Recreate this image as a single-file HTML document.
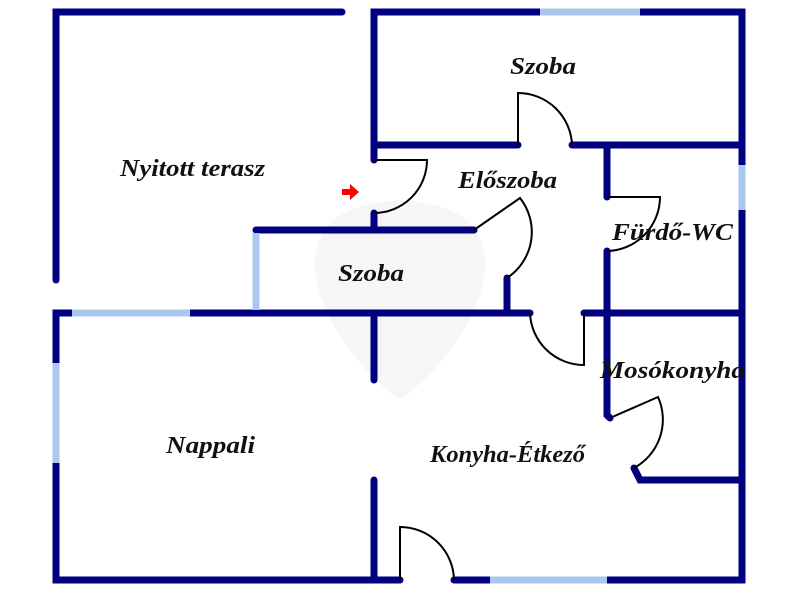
<!DOCTYPE html>
<html><head><style>body{margin:0;background:#fff}svg{display:block}text{font-family:"Liberation Serif",serif;font-style:italic;font-weight:bold;font-size:24px;fill:#111}</style></head><body>
<svg width="800" height="600" viewBox="0 0 800 600">
<path d="M400 200 C330 205 315 230 315 270 C320 320 360 370 400 400 C440 370 480 320 485 270 C485 230 470 205 400 200Z" fill="#f6f6f6"/>
<g stroke="#000080" stroke-width="7" stroke-linecap="round" fill="none">
<path d="M342 12H56V280"/>
<path d="M374 145V12H742V580H454"/>
<path d="M400 580H56V313H530"/>
<path d="M584 313H742"/>
<path d="M374 145H518M572 145H742"/>
<path d="M607 145V197M607 251V415L610 418"/>
<path d="M374 145V160M374 213V230"/>
<path d="M256 230H474"/>
<path d="M507 278V313"/>
<path d="M374 313V380M374 480V580"/>
<path d="M634 468L640 480H742"/>
</g>
<g stroke="#a8c8f0" stroke-width="7" fill="none">
<path d="M540 12H640M742 165V210M72 313H190M256 233V310M56 363V463M490 580H607"/>
</g>
<g stroke="#000" stroke-width="2" fill="none">
<path d="M518 145V93A54 54 0 0 1 572 145"/>
<path d="M607 197H660A54 54 0 0 1 607 251"/>
<path d="M374 160H427A53 53 0 0 1 374 213"/>
<path d="M474 230L520 198A55 55 0 0 1 507 278"/>
<path d="M530 313A54 54 0 0 0 584 365V313"/>
<path d="M610 418L658 397A55 55 0 0 1 634 468"/>
<path d="M400 580V527A54 54 0 0 1 454 580"/>
</g>
<path d="M342 189h8v-5l9 8-9 8v-5h-8z" fill="#f00"/>
<text x="120" y="176" textLength="145" lengthAdjust="spacingAndGlyphs">Nyitott terasz</text>
<text x="510" y="74" textLength="66" lengthAdjust="spacingAndGlyphs">Szoba</text>
<text x="458" y="188" textLength="99" lengthAdjust="spacingAndGlyphs">Előszoba</text>
<text x="612" y="240" textLength="121" lengthAdjust="spacingAndGlyphs">Fürdő-WC</text>
<text x="338" y="281" textLength="66" lengthAdjust="spacingAndGlyphs">Szoba</text>
<text x="600" y="378" textLength="145" lengthAdjust="spacingAndGlyphs">Mosókonyha</text>
<text x="166" y="453" textLength="89" lengthAdjust="spacingAndGlyphs">Nappali</text>
<text x="430" y="462" textLength="155" lengthAdjust="spacingAndGlyphs">Konyha-Étkező</text>
</svg>
</body></html>
